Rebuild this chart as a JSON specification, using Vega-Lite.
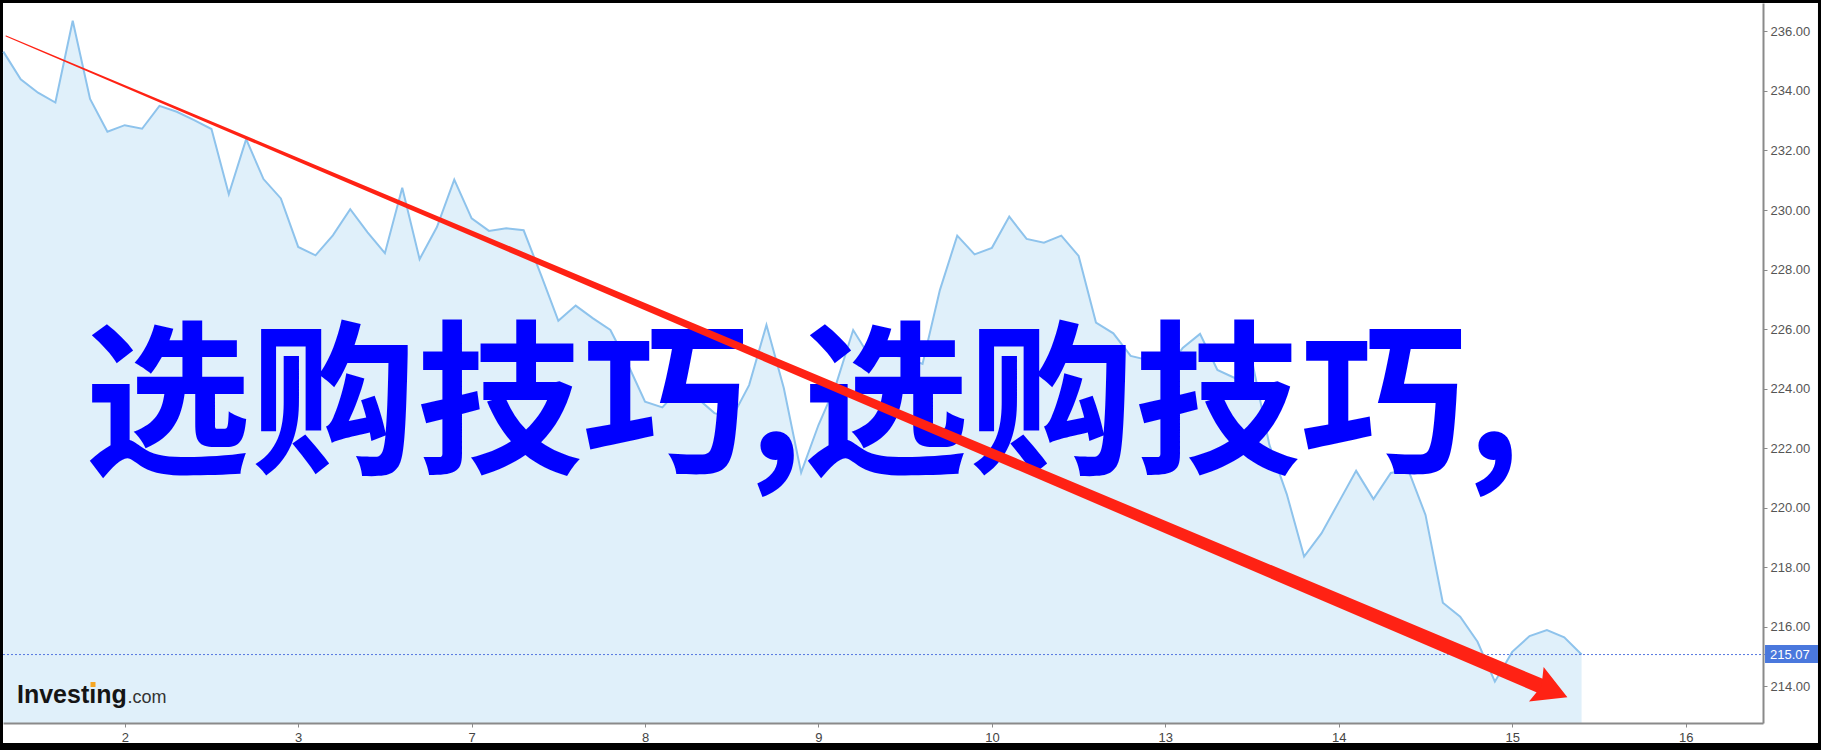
{
  "$schema": "https://vega.github.io/schema/vega-lite/v6.json",
  "width": 1760,
  "height": 720,
  "autosize": {"type": "none"},
  "padding": {"left": 3, "top": 3, "right": 58, "bottom": 27},
  "background": "#000000",
  "config": {"view": {"stroke": null}},
  "datasets": {
    "frame": [{"x": -0.702, "x2": 9.763, "y": 236.954, "y2": 212.099}],
    "series": [
      {"x": -0.7, "y": 235.32}, {"x": -0.6, "y": 234.39}, {"x": -0.5, "y": 233.94}, {"x": -0.4, "y": 233.61},
      {"x": -0.3, "y": 236.36}, {"x": -0.2, "y": 233.73}, {"x": -0.1, "y": 232.63}, {"x": 0.0, "y": 232.85},
      {"x": 0.1, "y": 232.73}, {"x": 0.2, "y": 233.5}, {"x": 0.3, "y": 233.3}, {"x": 0.4, "y": 233.02},
      {"x": 0.5, "y": 232.72}, {"x": 0.6, "y": 230.53}, {"x": 0.7, "y": 232.38}, {"x": 0.8, "y": 231.04},
      {"x": 0.9, "y": 230.39}, {"x": 1.0, "y": 228.76}, {"x": 1.1, "y": 228.48}, {"x": 1.2, "y": 229.15},
      {"x": 1.3, "y": 230.03}, {"x": 1.4, "y": 229.25}, {"x": 1.5, "y": 228.55}, {"x": 1.6, "y": 230.75},
      {"x": 1.7, "y": 228.35}, {"x": 1.8, "y": 229.43}, {"x": 1.9, "y": 231.02}, {"x": 2.0, "y": 229.72},
      {"x": 2.1, "y": 229.3}, {"x": 2.2, "y": 229.39}, {"x": 2.3, "y": 229.32}, {"x": 2.4, "y": 227.82},
      {"x": 2.5, "y": 226.28}, {"x": 2.6, "y": 226.79}, {"x": 2.7, "y": 226.36}, {"x": 2.8, "y": 225.97},
      {"x": 2.9, "y": 224.83}, {"x": 3.0, "y": 223.56}, {"x": 3.1, "y": 223.37}, {"x": 3.2, "y": 224.02},
      {"x": 3.3, "y": 223.69}, {"x": 3.4, "y": 223.18}, {"x": 3.5, "y": 223.01}, {"x": 3.6, "y": 224.12},
      {"x": 3.7, "y": 226.14}, {"x": 3.8, "y": 224.02}, {"x": 3.9, "y": 221.18}, {"x": 4.0, "y": 222.78},
      {"x": 4.1, "y": 224.12}, {"x": 4.2, "y": 225.97}, {"x": 4.3, "y": 225.03}, {"x": 4.4, "y": 225.13},
      {"x": 4.5, "y": 225.06}, {"x": 4.6, "y": 224.83}, {"x": 4.7, "y": 227.31}, {"x": 4.8, "y": 229.14},
      {"x": 4.9, "y": 228.51}, {"x": 5.0, "y": 228.73}, {"x": 5.1, "y": 229.78}, {"x": 5.2, "y": 229.03},
      {"x": 5.3, "y": 228.9}, {"x": 5.4, "y": 229.14}, {"x": 5.5, "y": 228.46}, {"x": 5.6, "y": 226.22},
      {"x": 5.7, "y": 225.86}, {"x": 5.8, "y": 225.1}, {"x": 5.9, "y": 224.96}, {"x": 6.0, "y": 224.56},
      {"x": 6.1, "y": 225.37}, {"x": 6.2, "y": 225.84}, {"x": 6.3, "y": 224.63}, {"x": 6.4, "y": 224.36},
      {"x": 6.5, "y": 224.93}, {"x": 6.6, "y": 222.11}, {"x": 6.7, "y": 220.46}, {"x": 6.8, "y": 218.36},
      {"x": 6.9, "y": 219.14}, {"x": 7.0, "y": 220.19}, {"x": 7.1, "y": 221.24}, {"x": 7.2, "y": 220.29},
      {"x": 7.3, "y": 221.17}, {"x": 7.4, "y": 221.28}, {"x": 7.5, "y": 219.76}, {"x": 7.6, "y": 216.81},
      {"x": 7.7, "y": 216.34}, {"x": 7.8, "y": 215.5}, {"x": 7.9, "y": 214.16}, {"x": 8.0, "y": 215.16},
      {"x": 8.1, "y": 215.69}, {"x": 8.2, "y": 215.89}, {"x": 8.3, "y": 215.65}, {"x": 8.4, "y": 215.07}
    ],
    "lastline": [{"x": -0.702, "x2": 9.4577, "y": 215.07}],
    "title": [{"x": -0.232, "y": 221.571, "label": "选购技巧,选购技巧,"}],
    "arrow": [{"x": -0.6847, "y": 235.846, "w": 1}, {"x": 8.1696, "y": 214.0, "w": 15}],
    "head": [{"x": 8.2186, "y": 213.879}],
    "logo1": [{"x": -0.6213, "y": 213.443, "label": "Investıng"}],
    "logo2": [{"x": 0.0159, "y": 213.443, "label": ".com"}],
    "logodot": [{"x": -0.1831, "y": 214.064}],
    "pricebox": [{"x": 9.4577, "x2": 9.763, "y": 215.391, "y2": 214.786}],
    "pricelabel": [{"x": 9.4866, "y": 215.07, "label": "215.07"}]
  },
  "encoding": {
    "x": {
      "field": "x", "type": "quantitative",
      "scale": {"domain": [-0.702, 9.446], "nice": false, "zero": false},
      "axis": {
        "values": [0, 1, 2, 3, 4, 5, 6, 7, 8, 9],
        "labelExpr": "['2','3','7','8','9','10','13','14','15','16'][datum.value]",
        "title": null, "grid": false,
        "domainColor": "#8a8a8a", "domainWidth": 2,
        "tickColor": "#8a8a8a", "tickSize": 4,
        "labelColor": "#444444", "labelFont": "Liberation Sans", "labelFontSize": 13,
        "labelPadding": 4, "labelOverlap": false, "labelFlush": false, "zindex": 1
      }
    },
    "y": {
      "field": "y", "type": "quantitative",
      "scale": {"domain": [212.771, 236.954], "nice": false, "zero": false},
      "axis": {
        "orient": "right",
        "values": [214, 216, 218, 220, 222, 224, 226, 228, 230, 232, 234, 236],
        "format": ".2f", "title": null, "grid": false,
        "domainColor": "#8a8a8a", "domainWidth": 2,
        "tickColor": "#8a8a8a", "tickSize": 4,
        "labelColor": "#555555", "labelFont": "Liberation Sans", "labelFontSize": 13,
        "labelPadding": 3, "labelOverlap": false, "labelFlush": false, "zindex": 1
      }
    }
  },
  "layer": [
    {"data": {"name": "frame"}, "mark": {"type": "rect", "fill": "#ffffff", "clip": false},
     "encoding": {"x2": {"field": "x2"}, "y2": {"field": "y2"}}},
    {"data": {"name": "series"}, "mark": {"type": "area", "color": "#e0f0fa", "opacity": 1},
     "encoding": {"y2": {"datum": 212.771}}},
    {"data": {"name": "series"}, "mark": {"type": "line", "color": "#8ec3ec", "strokeWidth": 2},
     "encoding": {}},
    {"data": {"name": "lastline"}, "mark": {"type": "rule", "color": "#5577e0", "strokeDash": [2, 2], "strokeWidth": 1},
     "encoding": {"x2": {"field": "x2"}}},
    {"data": {"name": "title"},
     "mark": {"type": "text", "font": "Noto Sans CJK SC", "fontWeight": "bold", "fontSize": 166, "color": "#0000ff", "align": "left", "baseline": "alphabetic"},
     "encoding": {"text": {"field": "label"}}},
    {"data": {"name": "arrow"}, "mark": {"type": "trail", "color": "#ff2214", "opacity": 1},
     "encoding": {"size": {"field": "w", "type": "quantitative", "scale": null, "legend": null}}},
    {"data": {"name": "head"},
     "mark": {"type": "point", "shape": "M1,0L-0.8,-1L-0.5,0L-0.8,1Z", "filled": true, "color": "#ff2214", "opacity": 1, "size": 1406, "angle": 22.95, "strokeWidth": 0}},
    {"data": {"name": "logo1"},
     "mark": {"type": "text", "font": "Liberation Sans", "fontWeight": "bold", "fontSize": 25, "color": "#151515", "align": "left", "baseline": "alphabetic"},
     "encoding": {"text": {"field": "label"}}},
    {"data": {"name": "logo2"},
     "mark": {"type": "text", "font": "Liberation Sans", "fontSize": 18, "color": "#333333", "align": "left", "baseline": "alphabetic"},
     "encoding": {"text": {"field": "label"}}},
    {"data": {"name": "logodot"},
     "mark": {"type": "point", "shape": "square", "filled": true, "color": "#f5a623", "opacity": 1, "size": 25, "strokeWidth": 0}},
    {"data": {"name": "pricebox"}, "mark": {"type": "rect", "fill": "#4a78dd", "clip": false},
     "encoding": {"x2": {"field": "x2"}, "y2": {"field": "y2"}}},
    {"data": {"name": "pricelabel"},
     "mark": {"type": "text", "font": "Liberation Sans", "fontSize": 13, "color": "#ffffff", "align": "left", "baseline": "middle"},
     "encoding": {"text": {"field": "label"}}}
  ]
}
